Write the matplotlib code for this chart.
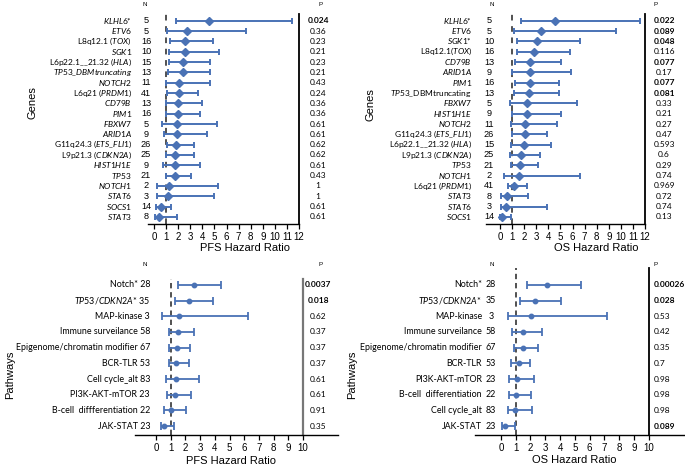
import matplotlib
matplotlib.use('Agg')
import matplotlib.pyplot as plt
from matplotlib.transforms import blended_transform_factory as btf

plt.rcParams['mathtext.fontset'] = 'custom'
plt.rcParams['mathtext.it'] = 'Lato:italic'
plt.rcParams['mathtext.rm'] = 'Lato'
plt.rcParams['mathtext.bf'] = 'Lato:bold'

# ---------------- data ----------------
pfs_gene_labels = [r"$\mathit{KLHL6}$*", r"$\mathit{ETV6}$", r"L8q12.1 ($\mathit{TOX}$)", r"$\mathit{SGK1}$",
                   r"L6p22.1__21.32 ($\mathit{HLA}$)", r"$\mathit{TP53\_DBMtruncating}$", r"$\mathit{NOTCH2}$",
                   r"L6q21 ($\mathit{PRDM1}$)", r"$\mathit{CD79B}$", r"$\mathit{PIM1}$", r"$\mathit{FBXW7}$",
                   r"$\mathit{ARID1A}$", r"G11q24.3 ($\mathit{ETS\_FLI1}$)", r"L9p21.3 ($\mathit{CDKN2A}$)",
                   r"$\mathit{HIST1H1E}$", r"$\mathit{TP53}$", r"$\mathit{NOTCH1}$", r"$\mathit{STAT6}$",
                   r"$\mathit{SOCS1}$", r"$\mathit{STAT3}$"]
pfs_gene_n = [5, 5, 16, 10, 15, 13, 11, 41, 13, 16, 5, 9, 26, 25, 9, 21, 2, 3, 14, 8]
pfs_gene_hr = [4.55, 2.76, 2.56, 2.54, 2.43, 2.37, 2.10, 2.04, 2.00, 1.96, 1.90, 1.90, 1.82, 1.77, 1.74, 1.74, 1.24, 1.13, 0.55, 0.44]
pfs_gene_lo = [1.8, 1.05, 1.3, 1.2, 1.2, 1.15, 0.97, 1.1, 1.0, 1.0, 0.69, 0.83, 1.05, 1.0, 0.77, 1.0, 0.28, 0.28, 0.2, 0.05]
pfs_gene_hi = [11.4, 7.6, 4.9, 5.35, 4.66, 4.66, 4.66, 3.6, 3.97, 3.8, 5.24, 4.39, 3.29, 3.29, 3.8, 3.06, 5.3, 4.97, 1.43, 1.9]
pfs_gene_p = ["0.024", "0.36", "0.23", "0.21", "0.23", "0.21", "0.43", "0.24", "0.36", "0.36", "0.61", "0.61",
              "0.62", "0.62", "0.61", "0.43", "1", "1", "0.61", "0.61"]
pfs_gene_sig = [True] + [False] * 19

os_gene_labels = [r"$\mathit{KLHL6}$*", r"$\mathit{ETV6}$", r"$\mathit{SGK1}$*", r"L8q12.1($\mathit{TOX}$)",
                  r"$\mathit{CD79B}$", r"$\mathit{ARID1A}$", r"$\mathit{PIM1}$", r"$\mathit{TP53}$_DBMtruncating",
                  r"$\mathit{FBXW7}$", r"$\mathit{HIST1H1E}$", r"$\mathit{NOTCH2}$", r"G11q24.3 ($\mathit{ETS\_FLI1}$)",
                  r"L6p22.1__21.32 ($\mathit{HLA}$)", r"L9p21.3 ($\mathit{CDKN2A}$)", r"$\mathit{TP53}$",
                  r"$\mathit{NOTCH1}$", r"L6q21 ($\mathit{PRDM1}$)", r"$\mathit{STAT3}$", r"$\mathit{STAT6}$",
                  r"$\mathit{SOCS1}$"]
os_gene_n = [5, 5, 10, 16, 13, 9, 16, 13, 5, 9, 11, 26, 15, 25, 21, 2, 41, 8, 3, 14]
os_gene_hr = [4.55, 3.43, 3.10, 2.85, 2.49, 2.49, 2.47, 2.44, 2.22, 2.22, 2.08, 2.08, 2.02, 1.70, 1.67, 1.58, 1.14, 0.55, 0.52, 0.14]
os_gene_lo = [1.75, 1.19, 1.41, 1.41, 1.22, 0.97, 1.22, 1.19, 0.83, 0.97, 0.91, 1.02, 0.94, 0.86, 0.91, 0.33, 0.66, 0.11, 0.06, 0.02]
os_gene_hi = [11.6, 9.6, 6.62, 5.79, 5.04, 5.88, 4.88, 4.88, 6.34, 5.01, 4.74, 3.93, 4.18, 3.35, 3.13, 6.65, 2.27, 2.33, 3.93, 0.91]
os_gene_p = ["0.022", "0.089", "0.048", "0.116", "0.077", "0.17", "0.077", "0.081", "0.33", "0.21", "0.27",
             "0.47", "0.593", "0.6", "0.29", "0.74", "0.969", "0.72", "0.74", "0.13"]
os_gene_sig = [True, True, True, False, True, False, True, True] + [False] * 12

pfs_path_labels = ["Notch*", r"$\mathit{TP53/CDKN2A}$*", "MAP-kinase", "Immune surveilance",
                   "Epigenome/chromatin modifier", "BCR-TLR", "Cell cycle_alt", "PI3K-AKT-mTOR",
                   "B-cell  diffferentiation", "JAK-STAT"]
pfs_path_n = [28, 35, 3, 58, 67, 53, 83, 23, 22, 23]
pfs_path_hr = [2.6, 2.27, 1.58, 1.47, 1.40, 1.36, 1.34, 1.27, 1.04, 0.57]
pfs_path_lo = [1.51, 1.29, 0.41, 0.86, 0.88, 0.88, 0.66, 0.75, 0.57, 0.32]
pfs_path_hi = [4.41, 3.88, 6.29, 2.6, 2.29, 2.27, 2.9, 2.38, 2.02, 1.2]
pfs_path_p = ["0.0037", "0.018", "0.62", "0.37", "0.37", "0.37", "0.61", "0.61", "0.91", "0.35"]
pfs_path_sig = [True, True] + [False] * 8

os_path_labels = ["Notch*", r"$\mathit{TP53/CDKN2A}$*", "MAP-kinase", "Immune surveilance",
                  "Epigenome/chromatin modifier", "BCR-TLR", "PI3K-AKT-mTOR", "B-cell  differentiation",
                  "Cell cycle_alt", "JAK-STAT"]
os_path_n = [28, 35, 3, 58, 67, 53, 23, 22, 83, 23]
os_path_hr = [3.12, 2.29, 2.01, 1.49, 1.49, 1.22, 1.07, 1.0, 0.95, 0.3]
os_path_lo = [1.76, 1.27, 0.45, 0.77, 0.88, 0.7, 0.54, 0.52, 0.45, 0.1]
os_path_hi = [5.45, 4.1, 7.17, 2.81, 2.54, 1.99, 2.22, 2.01, 2.13, 0.93]
os_path_p = ["0.00026", "0.028", "0.53", "0.42", "0.35", "0.7", "0.98", "0.98", "0.98", "0.089"]
os_path_sig = [True, True] + [False] * 7 + [True]

# ---------------- figure ----------------
W, H = 685, 467
fig = plt.figure(figsize=(W / 100, H / 100), dpi=100)
BLUE = '#4a72b5'
LAB = 'Lato'
SANS = 'Liberation Sans'


def fx(px):
    return px / W


def fy(py):
    return 1 - py / H


def make_ax(left, right, top, bottom):
    return fig.add_axes([fx(left), fy(bottom), (right - left) / W, (bottom - top) / H])


def panel(ax, hr, lo, hi, xlim, ylim, vmax, vcolor, vlw, marker, ms, cap, lw, dash):
    n = len(hr)
    y = list(range(n - 1, -1, -1))
    xerr = [[h - l for h, l in zip(hr, lo)], [u - h for h, u in zip(hr, hi)]]
    ax.axvline(1, color='#222222', lw=1.1, ls=dash, zorder=1)
    ax.errorbar(hr, y, xerr=xerr, fmt=marker, color=BLUE, ms=ms, capsize=cap,
                elinewidth=lw, capthick=lw, zorder=3)
    ax.plot([vmax, vmax], [ylim[0], ylim[1]], color=vcolor, lw=vlw, clip_on=False, zorder=2)
    ax.set_xlim(*xlim)
    ax.set_ylim(*ylim)
    for s in ['left', 'top', 'right']:
        ax.spines[s].set_visible(False)
    ax.spines['bottom'].set_linewidth(1.0)
    ax.set_yticks([])
    ax.set_xticks(range(0, vmax + 1))
    ax.tick_params(axis='x', direction='out', length=3.5, width=0.9, pad=2, labelsize=7.0)
    for t in ax.get_xticklabels():
        t.set_fontfamily(SANS)
    ax.set_facecolor('none')
    return y


def labels(ax, y, texts, x, ha, size, family=LAB, bold=None):
    tr = btf(fig.transFigure, ax.transData)
    for i, (yy, t) in enumerate(zip(y, texts)):
        w = 'bold' if (bold is not None and bold[i]) else 'normal'
        fig.text(fx(x), yy, t, transform=tr, ha=ha, va='center', fontsize=size,
                 family=family, fontweight=w)


GL = 6.0   # gene label size
NS = 6.6   # N size
PS = 6.0   # p size
PL = 6.4   # pathway label size
XL = 8.0   # axis label size

# ---- top-left : PFS genes
ax1 = make_ax(148, 299, 14, 224)
y1 = panel(ax1, pfs_gene_hr, pfs_gene_lo, pfs_gene_hi, (-0.5, 12), (-0.68, 19.65), 12, 'black', 1.3,
           'D', 4.3, 2.0, 1.4, (0, (3.7, 3.7)))
labels(ax1, y1, pfs_gene_labels, 132, 'right', GL)
labels(ax1, y1, [str(v) for v in pfs_gene_n], 146, 'center', NS, family=SANS)
labels(ax1, y1, pfs_gene_p, 318, 'center', PS, bold=pfs_gene_sig)
fig.text(fx(145), fy(4), "N", fontsize=4.5, family=SANS, ha='center', va='center')
fig.text(fx(321), fy(4), "P", fontsize=4.5, family=SANS, ha='center', va='center')
fig.text(fx(245), fy(248), "PFS Hazard Ratio", fontsize=XL, family=SANS, ha='center', va='center')
fig.text(fx(33), fy(103), "Genes", fontsize=XL, family=SANS, ha='center', va='center', rotation=90)

# ---- top-right : OS genes
ax2 = make_ax(486, 645, 14, 224)
y2 = panel(ax2, os_gene_hr, os_gene_lo, os_gene_hi, (-1.16, 12), (-0.68, 19.65), 12, 'black', 1.3,
           'D', 4.3, 2.0, 1.4, (0, (3.7, 3.7)))
labels(ax2, y2, os_gene_labels, 472, 'right', GL)
labels(ax2, y2, [str(v) for v in os_gene_n], 489, 'center', NS, family=SANS)
labels(ax2, y2, os_gene_p, 664, 'center', PS, bold=os_gene_sig)
fig.text(fx(492), fy(4), "N", fontsize=4.5, family=SANS, ha='center', va='center')
fig.text(fx(656), fy(4), "P", fontsize=4.5, family=SANS, ha='center', va='center')
fig.text(fx(596), fy(248), "OS Hazard Ratio", fontsize=XL, family=SANS, ha='center', va='center')
fig.text(fx(370), fy(105), "Genes", fontsize=XL, family=SANS, ha='center', va='center', rotation=90)

# ---- bottom-left : PFS pathways
ax3 = make_ax(135, 338, 279, 435)
y3 = panel(ax3, pfs_path_hr, pfs_path_lo, pfs_path_hi, (-1.43, 12.38), (-0.57, 9.38), 10, '#777777', 1.6,
           'o', 3.2, 2.6, 1.3, (0, (3.5, 2.5)))
labels(ax3, y3, [f"{t} {n}" for t, n in zip(pfs_path_labels, pfs_path_n)], 150, 'right', PL)
labels(ax3, y3, pfs_path_p, 318, 'center', PS, bold=pfs_path_sig)
fig.text(fx(145), fy(265), "N", fontsize=4.5, family=SANS, ha='center', va='center')
fig.text(fx(321), fy(265), "P", fontsize=4.5, family=SANS, ha='center', va='center')
fig.text(fx(231), fy(461), "PFS Hazard Ratio", fontsize=XL, family=SANS, ha='center', va='center')
fig.text(fx(10), fy(375), "Pathways", fontsize=XL, family=SANS, ha='center', va='center', rotation=90)

# ---- bottom-right : OS pathways
ax4 = make_ax(475, 685, 268, 435)
y4 = panel(ax4, os_path_hr, os_path_lo, os_path_hi, (-1.76, 12.47), (-0.57, 10.08), 10, 'black', 1.3,
           'o', 3.2, 2.6, 1.3, (0, (3.5, 2.5)))
labels(ax4, y4, os_path_labels, 482, 'right', PL)
labels(ax4, y4, [str(v) for v in os_path_n], 491, 'center', PL)
labels(ax4, y4, os_path_p, 654, 'left', PS, bold=os_path_sig)
fig.text(fx(492), fy(265), "N", fontsize=4.5, family=SANS, ha='center', va='center')
fig.text(fx(656), fy(265), "P", fontsize=4.5, family=SANS, ha='center', va='center')
fig.text(fx(574), fy(460), "OS Hazard Ratio", fontsize=XL, family=SANS, ha='center', va='center')
fig.text(fx(352), fy(375), "Pathways", fontsize=XL, family=SANS, ha='center', va='center', rotation=90)

fig.savefig('out.png', dpi=100)
